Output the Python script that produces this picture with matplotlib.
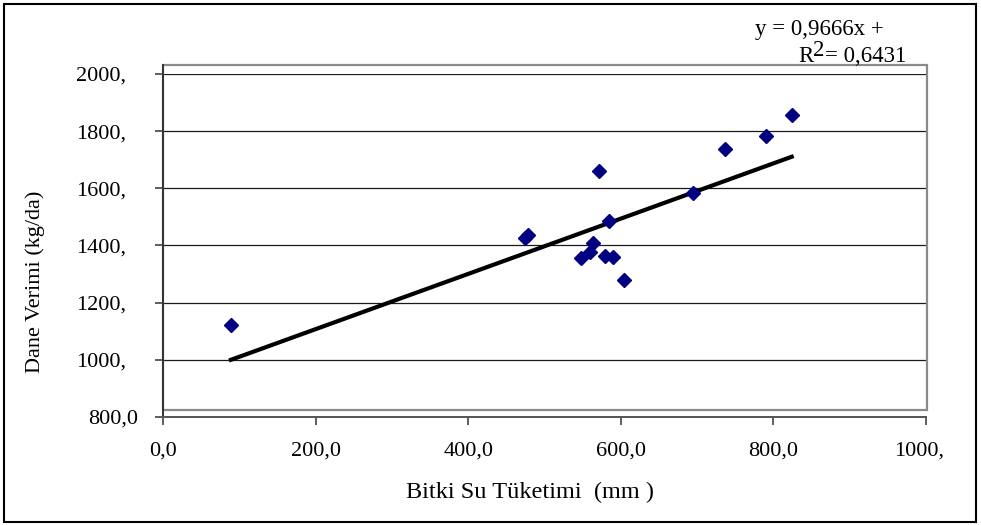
import matplotlib
matplotlib.use('Agg')
import matplotlib.pyplot as plt
import matplotlib.transforms as mtransforms
from matplotlib.patches import Rectangle
import numpy as np

plt.rcParams['font.family'] = ['Liberation Serif', 'DejaVu Serif']

# bitki su tuketimi (mm) ve dane verimi (kg/da)
water_use = [89, 475, 478, 571, 584, 548, 560, 563, 579, 590, 604, 695, 737, 790, 824]
grain_yield = [1122, 1425, 1437, 1661, 1486, 1357, 1378, 1408, 1364, 1361, 1278, 1583, 1739, 1783, 1856]

slope = 0.9666
intercept = 914
r2_text = '0,6431'

xticks = [0, 200, 400, 600, 800, 1000]
xlabels = ['0,0', '200,0', '400,0', '600,0', '800,0', '1000,']
yticks = [800, 1000, 1200, 1400, 1600, 1800, 2000]
ylabels = ['800,0', '1000,', '1200,', '1400,', '1600,', '1800,', '2000,']

W, H = 981, 525
fig = plt.figure(figsize=(W / 100, H / 100), dpi=100)
ax = fig.add_axes([163 / W, 1 - 417 / H, (926 - 163) / W, (417 - 74) / H])

ax.set_xlim(0, 1000)
ax.set_ylim(800, 2000)

# gri cerceve (plot area)
box = Rectangle((0, 824.5), 1001, 1207, fill=False, edgecolor='#8a8a8a', lw=1.6,
                clip_on=False, zorder=1)
ax.add_patch(box)

ax.set_axisbelow(True)
ax.grid(axis='y', color='#1a1a1a', lw=0.9)

# veri noktalari
ax.plot(water_use, grain_yield, 'D', color='#000080', ms=7.5, zorder=5)

# trend cizgisi
xt = np.array([min(water_use), max(water_use)])
ax.plot(xt, slope * xt + intercept, color='black', lw=3, zorder=4)

for s in ['top', 'right']:
    ax.spines[s].set_visible(False)
ax.spines['left'].set_bounds(800, 2031)
ax.spines['left'].set_color('#333333')
ax.spines['left'].set_linewidth(1.4)
ax.spines['bottom'].set_color('#555555')
ax.spines['bottom'].set_linewidth(1.4)

ax.set_xticks(xticks)
ax.set_xticklabels(xlabels)
ax.set_yticks(yticks)
ax.set_yticklabels(ylabels)
ax.tick_params(axis='both', direction='out', length=5.8, width=1.1, color='#333333',
               labelsize=16)
ax.tick_params(axis='y', pad=12)
ax.tick_params(axis='x', pad=12)

# kesilmis etiketler (Excel tarzi)
for lab in ax.get_yticklabels():
    if lab.get_text().endswith(','):
        lab.set_transform(lab.get_transform() +
                          mtransforms.ScaledTranslation(-0.12, 0, fig.dpi_scale_trans))
for lab in ax.get_xticklabels():
    if lab.get_text().endswith(','):
        lab.set_transform(lab.get_transform() +
                          mtransforms.ScaledTranslation(-0.07, 0, fig.dpi_scale_trans))

fig.text(35 / W, 1 - 282 / H, 'Dane Verimi (kg/da)', rotation=90, ha='center', va='center',
         fontsize=16)
fig.text(530 / W, 1 - 492 / H, 'Bitki Su Tüketimi  (mm )', ha='center', va='center',
         fontsize=17.5)

# denklem
fig.text(755 / W, 1 - 35 / H, 'y = 0,9666x +', ha='left', va='baseline', fontsize=16.5)
fig.text(798 / W, 1 - 62 / H, 'R', ha='left', va='baseline', fontsize=16.5)
fig.text(813 / W, 1 - 56 / H, '2', ha='left', va='baseline', fontsize=16.5)
fig.text(825 / W, 1 - 62 / H, '= ' + r2_text, ha='left', va='baseline', fontsize=16.5)

# dis cerceve
frame = Rectangle((4 / W, 3 / H), (976 - 4) / W, (521 - 3) / H, transform=fig.transFigure,
                  fill=False, edgecolor='black', lw=1.5)
fig.patches.append(frame)

fig.savefig('out.png', dpi=100)
